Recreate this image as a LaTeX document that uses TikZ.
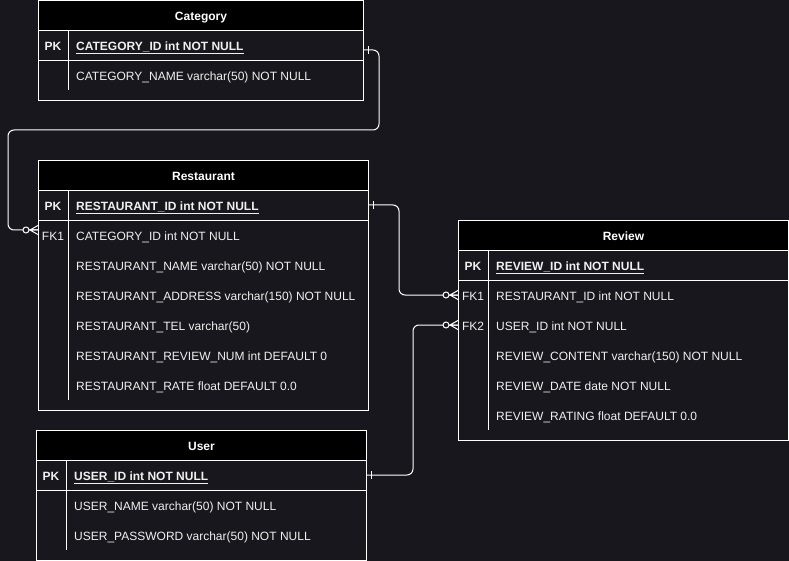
\documentclass[tikz,border=0pt]{standalone}
\usepackage{fontspec}
\setmainfont{Liberation Sans}
\usetikzlibrary{calc,positioning}
\definecolor{canvas}{RGB}{24,23,29}
\definecolor{fieldtext}{RGB}{240,240,240}
\tikzstyle{entity}=[draw=white, line width=1pt, fill=canvas
,anchor=north west
,inner sep=0pt
]
\tikzstyle{entity head}=[entity, fill=black, minimum height=30, text=white, text height=11pt, text depth=0.4pt, font=\fontsize{12}{14}\selectfont\bfseries]
\tikzstyle{entity line}=[draw=white, line width=1pt]
\tikzstyle{key label}=[inner sep=0pt, text=fieldtext, text height=11pt, text depth=0.4pt, font=\fontsize{12}{14}\selectfont]
\tikzstyle{field}=[key label, anchor=west]
\tikzstyle{pk field}=[field, font=\fontsize{12}{14}\selectfont\bfseries]
\tikzstyle{relation}=[draw=white, line width=1pt, rounded corners=6pt]
\tikzstyle{relation end}=[relation, sharp corners]
% zero-or-many foot and one bar at an end point
\newcommand{\zeromany}[1]{%
    \path[relation end] (#1) ++(0,-4.5) -- ++(-8,4.5) -- ++(8,4.5) (#1) -- ++(-9,0);
    \path[relation end, fill=canvas] (#1) ++(-12,0) circle (3pt);}
\newcommand{\onlyone}[1]{\path[relation end] (#1) ++(4,-4) -- ++(0,8);}

\begin{document}
\begin{tikzpicture}[x=1pt,y=-1pt]
    \fill[canvas] (0,0) rectangle (789,561);
    \useasboundingbox (0,0) rectangle (789,561);
    % First we draw the entity boxes
    \foreach \x/\y/\w/\h/\name in {38/0/325/100/Category, 38/160/330/250/Restaurant, 458/220/330/220/Review, 36/430/330/130/User}{
        \node[entity, minimum width=\w, minimum height=\h] (\name) at (\x,\y) {};
        \node[entity head, minimum width=\w] (\name-head) at (\x,\y) {\name};
        \node[entity, minimum width=\w, minimum height=30] (\name-pkrow) at (\x,\y+30) {};
        \path[entity line] (\x+30,\y+30) -- (\x+30,\y+\h-10);
    }
    
    % Keys
    \foreach \x/\y/\key/\name in {38/30/\textbf{PK}/CategoryPKKey, 38/190/\textbf{PK}/RestaurantPKKey, 38/220/FK1/RestaurantFK1Key, 458/250/\textbf{PK}/ReviewPKKey, 458/280/FK1/ReviewFK1Key, 458/310/FK2/ReviewFK2Key, 36/460/\textbf{PK}/UserPKKey}
        \node[key label] (\name) at (\x+15,\y+15) {\key};
    
    % Primary key fields
    \foreach \x/\y/\field/\name in {38/30/CATEGORY\_ID int NOT NULL/CategoryPK, 38/190/RESTAURANT\_ID int NOT NULL/RestaurantPK, 458/250/REVIEW\_ID int NOT NULL/ReviewPK, 36/460/USER\_ID int NOT NULL/UserPK}
        \node[pk field] (\name) at (\x+38,\y+15) {\underline{\field}};
    
    % Other fields
    \foreach \x/\y/\field/\name in {38/60/CATEGORY\_NAME varchar(50) NOT NULL/CategoryName,
        38/220/CATEGORY\_ID int NOT NULL/RestaurantFK1, 38/250/RESTAURANT\_NAME varchar(50) NOT NULL/RestaurantName,
        38/280/RESTAURANT\_ADDRESS varchar(150) NOT NULL/RestaurantAddress, 38/310/RESTAURANT\_TEL varchar(50)/RestaurantTel,
        38/340/RESTAURANT\_REVIEW\_NUM int DEFAULT 0/RestaurantReviewNum, 38/370/RESTAURANT\_RATE float DEFAULT 0.0/RestaurantRate,
        458/280/RESTAURANT\_ID int NOT NULL/ReviewFK1, 458/310/USER\_ID int NOT NULL/ReviewFK2,
        458/340/REVIEW\_CONTENT varchar(150) NOT NULL/ReviewContent, 458/370/REVIEW\_DATE date NOT NULL/ReviewDate,
        458/400/REVIEW\_RATING float DEFAULT 0.0/ReviewRating,
        36/490/USER\_NAME varchar(50) NOT NULL/UserName, 36/520/USER\_PASSWORD varchar(50) NOT NULL/UserPassword}
        \node[field] (\name) at (\x+38,\y+15) {\field};
    
    % Connect entities with relations
    \coordinate (CategoryOut) at ($(Category.east |- CategoryPK)+(0,5)$);
    \coordinate (RestaurantIn) at ($(Restaurant.west |- RestaurantFK1)+(0,-5)$);
    \coordinate (RestaurantOut) at (Restaurant.east |- RestaurantPK);
    \coordinate (ReviewIn1) at (Review.west |- ReviewFK1);
    \coordinate (ReviewIn2) at (Review.west |- ReviewFK2);
    \coordinate (UserOut) at (User.east |- UserPK);
    \path[relation] (CategoryOut) -- ++(15,0) -- ++(0,80) -| ([xshift=-30pt]RestaurantIn) -- (RestaurantIn);
    \path[relation] (RestaurantOut) -- ++(30,0) |- (ReviewIn1);
    \path[relation] (UserOut) -- ++(46,0) |- (ReviewIn2);
    \foreach \name in {CategoryOut, RestaurantOut, UserOut}
        \onlyone{\name};
    \foreach \name in {RestaurantIn, ReviewIn1, ReviewIn2}
        \zeromany{\name};
\end{tikzpicture}
\end{document}
